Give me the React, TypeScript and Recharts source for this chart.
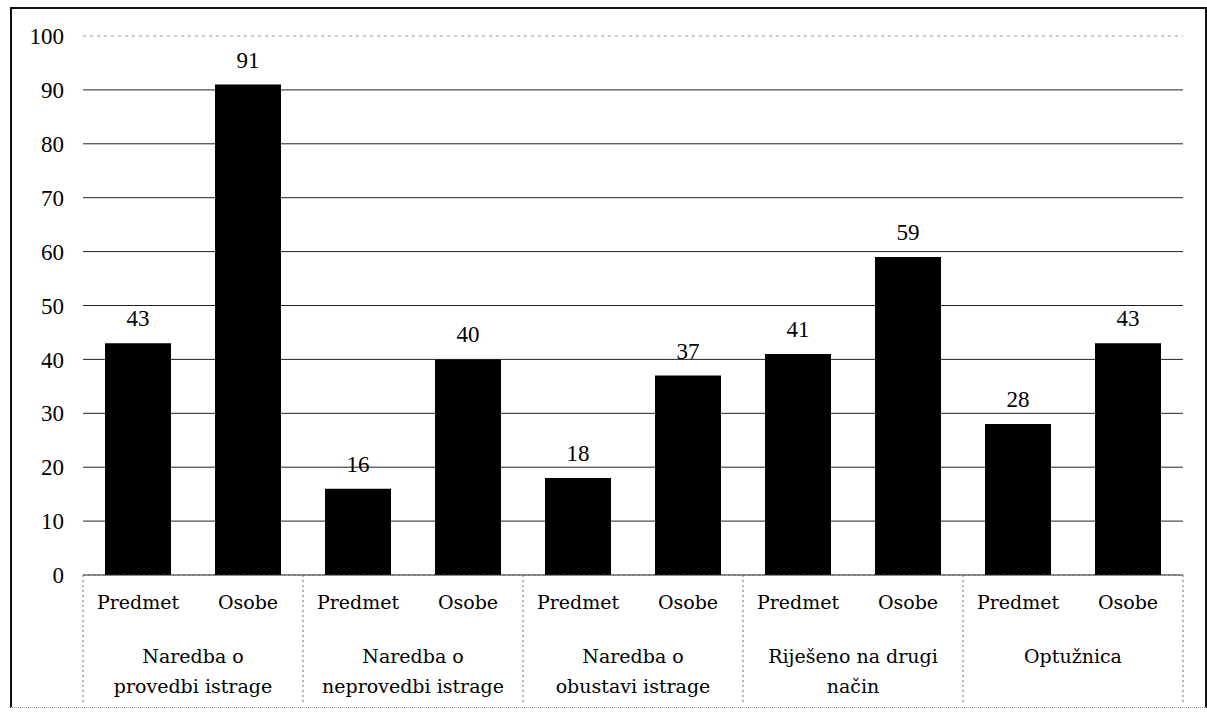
import { BarChart, Bar, XAxis, YAxis, CartesianGrid, LabelList } from 'recharts'

const groupLines = [
  ['Naredba o', 'provedbi istrage'],
  ['Naredba o', 'neprovedbi istrage'],
  ['Naredba o', 'obustavi istrage'],
  ['Riješeno na drugi', 'način'],
  ['Optužnica'],
]
const subLabels = ['Predmet', 'Osobe']
const predmetValues = [43, 16, 18, 41, 28]
const osobeValues = [91, 40, 37, 59, 43]
const yTicks = [0, 10, 20, 30, 40, 50, 60, 70, 80, 90, 100]

const W = 1207
const H = 723
const MARGIN = { top: 36, right: 24, bottom: 18, left: 10 }
const Y_WIDTH = 73
const PLOT_W = W - MARGIN.left - MARGIN.right - Y_WIDTH

const data = groupLines.flatMap((lines, g) =>
  subLabels.map((sub, s) => ({
    key: `${g}-${s}`,
    sub,
    group: g,
    value: s === 0 ? predmetValues[g] : osobeValues[g],
  }))
)

const BAND = PLOT_W / data.length
const serif = '"Liberation Serif", "Times New Roman", serif'
const labelFont = '"DejaVu Serif", serif'

function CategoryTick(props: any) {
  const { x, y, payload } = props
  const i = payload.index
  const row = data[i]
  const isFirst = i % 2 === 0
  const isLast = i === data.length - 1
  const lines = groupLines[row.group]
  const sep = { stroke: '#666', strokeDasharray: '2 3', strokeWidth: 1 }
  return (
    <g>
      <text x={x} y={y + 34} textAnchor="middle" fontFamily={labelFont} fontSize={19} fill="#000">
        {row.sub}
      </text>
      {isFirst && (
        <>
          <line x1={x - BAND / 2} y1={y} x2={x - BAND / 2} y2={y + 130} {...sep} />
          {lines.map((ln, k) => (
            <text
              key={k}
              x={x + BAND / 2}
              y={y + 88 + k * 30}
              textAnchor="middle"
              fontFamily={labelFont}
              fontSize={19}
              fill="#000"
            >
              {ln}
            </text>
          ))}
        </>
      )}
      {isLast && <line x1={x + BAND / 2} y1={y} x2={x + BAND / 2} y2={y + 130} {...sep} />}
    </g>
  )
}

function GridLine(props: any) {
  const { x1, x2, y1, y2 } = props
  const top = y1 < MARGIN.top + 5
  return (
    <line
      x1={x1}
      x2={x2}
      y1={y1}
      y2={y2}
      stroke={top ? '#999' : '#222'}
      strokeWidth={1}
      strokeDasharray={top ? '3 4' : undefined}
    />
  )
}

export default function App() {
  return (
    <div style={{ position: 'absolute', left: 0, top: 0, width: W, height: H, background: '#fff' }}>
      <div
        style={{
          position: 'absolute',
          left: 10,
          top: 7,
          width: 1193,
          height: 698,
          borderLeft: '2px solid #111',
          borderTop: '2px solid #111',
          borderRight: '2px solid #111',
          borderBottom: '1px dotted #999',
        }}
      />
      <div style={{ position: 'absolute', left: 0, top: 0 }}>
        <BarChart width={W} height={H} data={data} margin={MARGIN} barCategoryGap="20%">
          <CartesianGrid vertical={false} horizontal={GridLine as any} />
          <YAxis
            width={Y_WIDTH}
            domain={[0, 100]}
            ticks={yTicks}
            interval={0}
            axisLine={false}
            tickLine={false}
            tickSize={0}
            tickMargin={19}
            tick={{ fontFamily: serif, fontSize: 23, fill: '#000' }}
          />
          <XAxis
            dataKey="key"
            interval={0}
            height={130}
            tickLine={false}
            tickSize={0}
            tickMargin={0}
            axisLine={{ stroke: '#666', strokeDasharray: '2 3' }}
            tick={<CategoryTick />}
          />
          <Bar dataKey="value" fill="#000" isAnimationActive={false}>
            <LabelList
              dataKey="value"
              position="top"
              offset={17}
              style={{ fontFamily: serif, fontSize: 23, fill: '#000' }}
            />
          </Bar>
        </BarChart>
      </div>
    </div>
  )
}
